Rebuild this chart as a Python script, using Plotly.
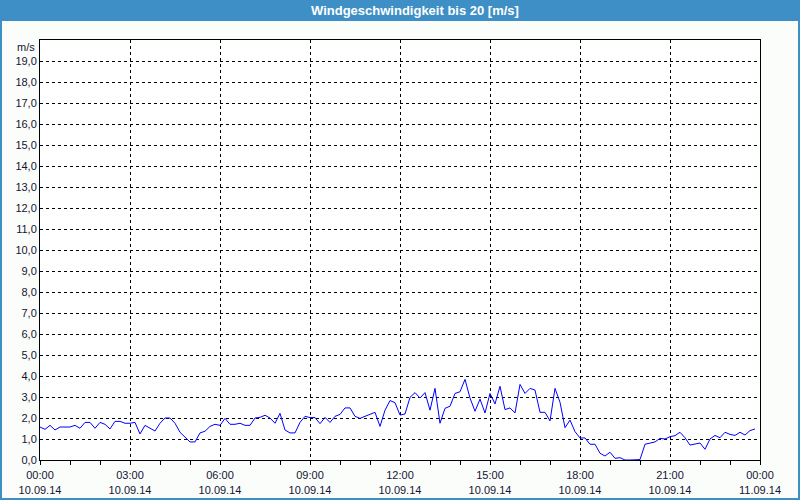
import plotly.graph_objects as go
import pandas as pd

# ---- data (10-minute wind speed samples, m/s) ----
wind = [
    1.57, 1.46, 1.65, 1.43, 1.57, 1.57, 1.57, 1.65, 1.51, 1.79,
    1.79, 1.51, 1.79, 1.70, 1.48, 1.84, 1.84, 1.75, 1.75, 1.79,
    1.24, 1.65, 1.51, 1.38, 1.75, 2.00, 2.00, 1.75, 1.32, 1.11,
    0.86, 0.86, 1.29, 1.37, 1.60, 1.70, 1.65, 1.98, 1.70, 1.70,
    1.75, 1.65, 1.65, 2.00, 2.03, 2.13, 2.00, 1.75, 2.22, 1.43,
    1.29, 1.29, 1.79, 2.08, 2.02, 2.02, 1.73, 2.03, 1.79, 2.08,
    2.17, 2.48, 2.48, 2.08, 1.98, 2.08, 2.17, 2.27, 1.60, 2.37,
    2.83, 2.73, 2.14, 2.19, 2.98, 3.21, 2.95, 3.21, 2.37, 3.41,
    1.75, 2.46, 2.56, 3.17, 3.25, 3.84, 2.95, 2.32, 2.90, 2.24,
    3.17, 2.67, 3.51, 2.40, 2.48, 2.24, 3.60, 3.17, 3.41, 3.33,
    2.27, 2.27, 1.86, 3.41, 2.75, 1.54, 1.90, 1.35, 1.05, 1.05,
    0.75, 0.75, 0.32, 0.19, 0.37, 0.08, 0.11, 0.00, 0.00, 0.00,
    0.02, 0.75, 0.81, 0.86, 1.03, 1.00, 1.11, 1.16, 1.32, 1.06,
    0.71, 0.76, 0.81, 0.51, 1.00, 1.17, 1.06, 1.32, 1.22, 1.17,
    1.32, 1.19, 1.40, 1.48,
]
times = pd.date_range("2014-09-10 00:00", periods=len(wind), freq="10min")

x_tick_vals = pd.date_range("2014-09-10 00:00", "2014-09-11 00:00", freq="3h")
x_tick_text = [t.strftime("%H:%M") + "<br>" + t.strftime("%d.%m.%y") for t in x_tick_vals]
y_tick_vals = list(range(0, 20))
y_tick_text = [f"{v},0" for v in y_tick_vals]

title_text = "Windgeschwindigkeit bis 20 [m/s]"
unit_text = "m/s"

W, H = 800, 500
ML, MR, MT, MB = 40, 40, 40, 40
PW, PH = W - ML - MR, H - MT - MB


def px(x):
    return (x - ML) / PW


def py(y):
    return (H - MB - y) / PH


FONT = "Liberation Sans"
TXT = "#141432"
BLUE = "#3d8fc6"

fig = go.Figure()
fig.add_trace(go.Scatter(
    x=times, y=wind, mode="lines",
    line=dict(color="#0000ff", width=1),
    hoverinfo="skip", showlegend=False,
))

fig.update_layout(
    width=W, height=H,
    margin=dict(l=ML, r=MR, t=MT, b=MB, pad=0, autoexpand=False),
    paper_bgcolor="#fbfdfb",
    plot_bgcolor="#ffffff",
    font=dict(family=FONT, size=11, color=TXT),
    showlegend=False,
)

fig.update_xaxes(
    type="date", automargin=False,
    range=["2014-09-10 00:00", "2014-09-11 00:00"],
    tickvals=list(x_tick_vals), ticktext=x_tick_text,
    ticks="outside", ticklen=4, tickcolor="black", tickwidth=1,
    ticklabelstandoff=1,
    showgrid=True, gridcolor="black", gridwidth=1, griddash="3px,3px",
    showline=True, linecolor="black", linewidth=1, mirror=True,
    zeroline=False,
    minor=dict(dtick=3600000, ticks="outside", ticklen=4, tickcolor="black",
               tickwidth=1, showgrid=False),
    tickfont=dict(family=FONT, size=11, color=TXT),
    fixedrange=True,
)
fig.update_yaxes(
    range=[0, 20], automargin=False,
    tickvals=y_tick_vals, ticktext=y_tick_text,
    ticks="",
    showgrid=True, gridcolor="black", gridwidth=1, griddash="3px,3px",
    showline=True, linecolor="black", linewidth=1, mirror=True,
    zeroline=False,
    tickfont=dict(family=FONT, size=11, color=TXT),
    fixedrange=True,
)

# title bar and window border
shapes = [
    dict(type="rect", xref="paper", yref="paper",
         x0=px(0), x1=px(W), y0=py(21), y1=py(0),
         fillcolor=BLUE, line=dict(width=0), layer="below"),
    dict(type="rect", xref="paper", yref="paper",
         x0=px(0), x1=px(2), y0=py(H), y1=py(0),
         fillcolor=BLUE, line=dict(width=0), layer="below"),
    dict(type="rect", xref="paper", yref="paper",
         x0=px(W - 2), x1=px(W), y0=py(H), y1=py(0),
         fillcolor=BLUE, line=dict(width=0), layer="below"),
    dict(type="rect", xref="paper", yref="paper",
         x0=px(0), x1=px(W), y0=py(H), y1=py(H - 2),
         fillcolor=BLUE, line=dict(width=0), layer="below"),
]
fig.update_layout(shapes=shapes)

fig.add_annotation(
    xref="paper", yref="paper", x=px(415), y=py(10.5),
    text=f"<b>{title_text}</b>", showarrow=False,
    font=dict(family=FONT, size=13, color="white"),
    xanchor="center", yanchor="middle",
)
fig.add_annotation(
    xref="paper", yref="paper", x=px(37), y=py(47),
    text=unit_text, showarrow=False,
    font=dict(family=FONT, size=11, color=TXT),
    xanchor="right", yanchor="middle",
)

fig.write_html("out.html")
